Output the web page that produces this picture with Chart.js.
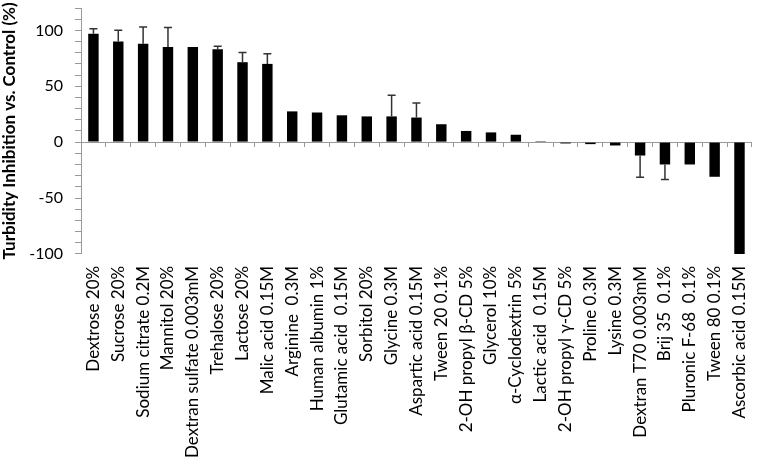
<!DOCTYPE html>
<html>
<head>
<meta charset="utf-8">
<script src="https://cdn.jsdelivr.net/npm/chart.js@4"></script>
<style>
  body { margin: 0; background: #fff; }
</style>
</head>
<body>
<canvas id="myChart" width="764" height="464"></canvas>
<script>
// Categories (left to right)
const categories = [
    "Dextrose 20%", "Sucrose 20%", "Sodium citrate 0.2M", "Mannitol 20%",
    "Dextran sulfate 0.003mM", "Trehalose 20%", "Lactose 20%", "Malic acid 0.15M",
    "Arginine  0.3M", "Human albumin 1%", "Glutamic acid  0.15M", "Sorbitol 20%",
    "Glycine 0.3M", "Aspartic acid 0.15M", "Tween 20 0.1%", "2-OH propyl β-CD 5%",
    "Glycerol 10%", "α-Cyclodextrin 5%", "Lactic acid  0.15M", "2-OH propyl γ-CD 5%",
    "Proline 0.3M", "Lysine 0.3M", "Dextran T70 0.003mM", "Brij 35  0.1%",
    "Pluronic F-68  0.1%", "Tween 80 0.1%", "Ascorbic acid 0.15M"
];

// Mean turbidity inhibition (%)
const inhibition = [
    97, 90, 88, 85, 85, 83, 71.5, 70,
    27.5, 26.5, 24, 23, 23, 22, 16, 10,
    8.7, 6.6, 0.8, -1.2, -1.8, -3, -12, -20,
    -20, -31, -100
];

// One-sided error (drawn away from zero)
const errors = [
    4.5, 10, 15, 17.5, 0, 2.7, 8.7, 9,
    0, 0, 0, 0, 19, 13, 0, 0,
    0, 0, 0, 0, 0, 0, 19.5, 13.5,
    0, 0, 0
];

// Y axis labelled ticks
const yTickLabels = [100, 50, 0, -50, -100];

// Draw error bars with the chart's own scales
const errorBars = {
    id: 'errorBars',
    afterDatasetsDraw(chart) {
        const ctx = chart.ctx;
        const yScale = chart.scales.y;
        const meta = chart.getDatasetMeta(0);
        ctx.save();
        ctx.strokeStyle = '#333';
        ctx.lineWidth = 1.5;
        meta.data.forEach((bar, i) => {
            const err = errors[i];
            if (!err) return;
            const v = inhibition[i];
            const end = v >= 0 ? v + err : v - err;
            const yEnd = yScale.getPixelForValue(end);
            ctx.beginPath();
            ctx.moveTo(bar.x, bar.y);
            ctx.lineTo(bar.x, yEnd);
            ctx.moveTo(bar.x - 4, yEnd);
            ctx.lineTo(bar.x + 4, yEnd);
            ctx.stroke();
        });
        ctx.restore();
    }
};

new Chart(document.getElementById("myChart"), {
    type: "bar",
    data: {
        labels: categories,
        datasets: [{
            data: inhibition,
            backgroundColor: "#000",
            barPercentage: 0.42,
            categoryPercentage: 1.0,
            xAxisID: 'x',
            yAxisID: 'y'
        }]
    },
    options: {
        responsive: false,
        animation: false,
        layout: { padding: { left: 0, right: 6, top: 8, bottom: 2 } },
        plugins: {
            legend: { display: false },
            tooltip: { enabled: false }
        },
        scales: {
            x: {
                type: 'category',
                position: { y: 0 },
                offset: true,
                grid: { offset: true, drawOnChartArea: false, drawTicks: true, tickLength: 4, color: '#999' },
                border: { display: true, color: '#999', width: 1 },
                ticks: { display: false }
            },
            x2: {
                type: 'category',
                position: 'bottom',
                offset: true,
                grid: { display: false },
                border: { display: false },
                ticks: {
                    autoSkip: false,
                    maxRotation: 90,
                    minRotation: 90,
                    padding: 4,
                    color: '#000',
                    font: { family: 'Lato', size: 17 }
                }
            },
            y: {
                min: -100,
                max: 120,
                afterFit: (s) => {
                    s.width = 81;
                    s.paddingTop = 0;
                    s.paddingBottom = 0;
                },
                grid: { drawOnChartArea: false, drawTicks: true, tickLength: 6, color: '#999' },
                border: { display: true, color: '#999', width: 1 },
                ticks: {
                    stepSize: 10,
                    autoSkip: false,
                    color: '#000',
                    padding: 12,
                    font: { family: 'Lato', size: 16 },
                    callback: (v) => yTickLabels.includes(v) ? v : ''
                },
                title: {
                    display: true,
                    text: 'Turbidity Inhibition vs. Control (%)',
                    color: '#000',
                    padding: { top: 1, bottom: 12 },
                    font: { family: 'Lato', size: 17, weight: 'bold', lineHeight: 1 }
                }
            }
        }
    },
    plugins: [errorBars]
});
</script>
</body>
</html>
